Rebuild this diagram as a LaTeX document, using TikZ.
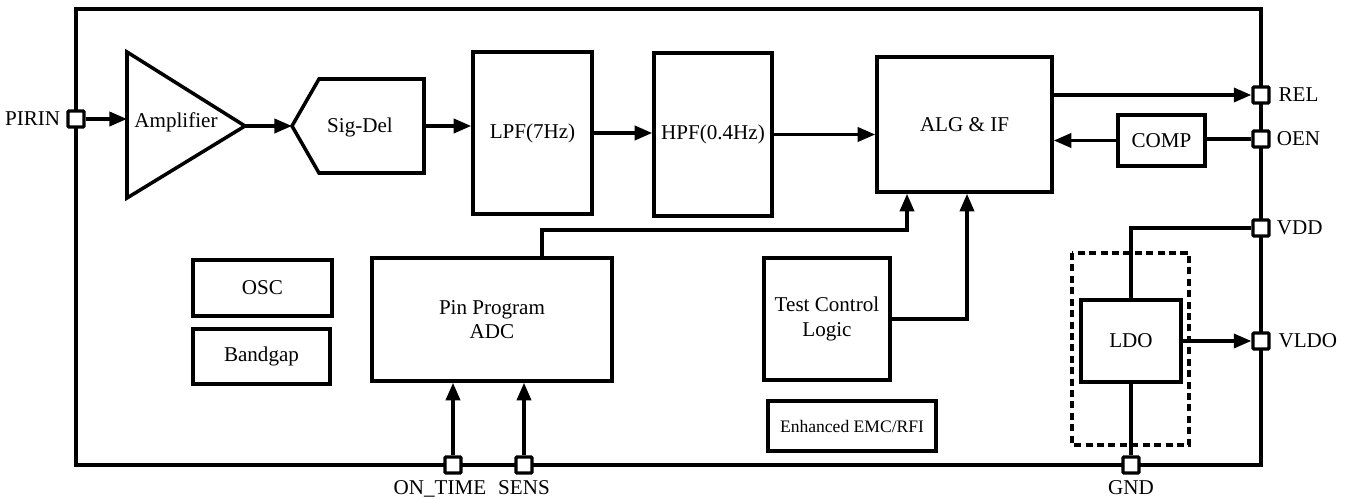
\documentclass[tikz,border=0pt]{standalone}
\usepackage{fontspec}
\setmainfont{Liberation Serif}
\usetikzlibrary{arrows.meta}

\tikzset{
	blk/.style={draw, line width=2pt, rectangle, align=center, inner sep=2pt},
	pinbox/.style={draw, fill=white, line width=1.9pt, rectangle, minimum size=0.32cm, inner sep=0pt, rounded corners=0.5pt},
	arr/.style={line width=2pt, -{Triangle[length=10pt,width=8pt]}},
	wire/.style={line width=2pt},
}

\begin{document}
\begin{tikzpicture}[x=0.02cm,y=-0.02cm,font=\fontsize{12}{14}\selectfont]
	\useasboundingbox (0,0) rectangle (1346,499);
	% chip outline
	\draw[wire] (76,9) rectangle (1261,465);
	% amplifier and sig-del
	\draw[wire] (127,52) -- (245,126) -- (127,198) -- cycle;
	\node (amp) at (176,122) {Amplifier};
	\coordinate (ampin) at (127,119);
	\coordinate (ampout) at (245,126);
	\draw[wire] (292,126) -- (319,79) -- (424,79) -- (424,173) -- (319,173) -- cycle;
	\node (sd) at (360,127) {Sig-Del};
	\coordinate (sdin) at (292,126);
	\coordinate (sdout) at (424,126);
	% blocks
	\node[blk, minimum width=2.38cm, minimum height=3.24cm] (lpf) at (532.5,133) {LPF(7Hz)};
	\node[blk, minimum width=2.36cm, minimum height=3.26cm] (hpf) at (713,134.5) {HPF(0.4Hz)};
	\node[blk, minimum width=3.5cm, minimum height=2.7cm] (alg) at (964.5,124.5) {ALG \& IF};
	\node[blk, minimum width=1.74cm, minimum height=1.02cm] (comp) at (1161.5,140.5) {COMP};
	\node[blk, minimum width=2.78cm, minimum height=1.12cm] (osc) at (262.5,288) {OSC};
	\node[blk, minimum width=2.74cm, minimum height=1.1cm] (bg) at (261.5,356.5) {Bandgap};
	\node[blk, minimum width=4.8cm, minimum height=2.46cm] (adc) at (492,319.5) {Pin Program\\ADC};
	\node[blk, minimum width=2.52cm, minimum height=2.44cm] (tcl) at (827,319) {Test Control\\Logic};
	\node[blk, minimum width=3.36cm, minimum height=1cm, font=\fontsize{10}{12}\selectfont] (emc) at (852,426) {Enhanced EMC/RFI};
	\draw[wire, dash pattern=on 4pt off 2.5pt] (1072,253) rectangle (1189,445);
	\node[blk, minimum width=2cm, minimum height=1.64cm] (ldo) at (1131,341) {LDO};
	% pins
	\node[pinbox, label={[label distance=0pt]left:PIRIN}] (pirin) at (76,119) {};
	\node[pinbox, label={[label distance=1pt]right:REL}] (rel) at (1261,95) {};
	\node[pinbox, label={[label distance=0pt]right:OEN}] (oen) at (1261,139) {};
	\node[pinbox, label={[label distance=0pt]right:VDD}] (vdd) at (1261,228) {};
	\node[pinbox, label={[label distance=1pt]right:VLDO}] (vldo) at (1261,341) {};
	\node[pinbox, label={[label distance=0pt]below:GND}] (gnd) at (1131,465) {};
	\node[pinbox, label={[label distance=0pt, xshift=-0.26cm]below:ON\_TIME}] (ontime) at (453,465) {};
	\node[pinbox, label={[label distance=0pt]below:SENS}] (sens) at (524,465) {};
	% signal path
	\draw[arr] (pirin.east) -- (ampin);
	\draw[arr] (ampout) -- (sdin);
	\draw[arr] (sdout) -- (sdout -| lpf.west);
	\draw[arr] (lpf.east) -- (lpf.east -| hpf.west);
	\draw[arr] (hpf.east) -- (hpf.east -| alg.west);
	\draw[arr] (alg.east |- rel) -- (rel.west);
	\draw[wire] (oen.west) -- (oen.west -| comp.east);
	\draw[arr] (comp.west) -- (comp.west -| alg.east);
	\draw[arr] ([xshift=1cm]adc.north) -- ++(0,-26) -| ([xshift=-1.15cm]alg.south);
	\draw[arr] (tcl.east) -| ([xshift=0.05cm]alg.south);
	\draw[arr] (ontime.north) -- (ontime.north |- adc.south);
	\draw[arr] (sens.north) -- (sens.north |- adc.south);
	% supply
	\draw[wire] (vdd.west) -| (ldo.north);
	\draw[arr] (ldo.east) -- (ldo.east -| vldo.west);
	\draw[wire] (ldo.south) -- (gnd.north);
\end{tikzpicture}
\end{document}
